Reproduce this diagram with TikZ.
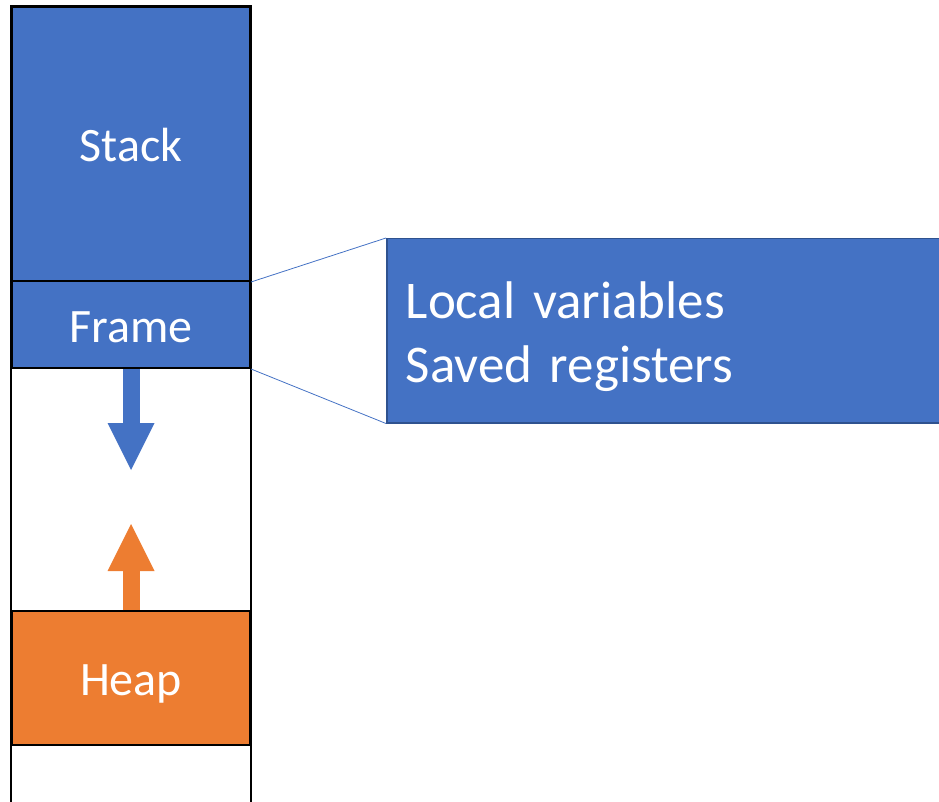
\documentclass[tikz,border=0pt]{standalone}
\usepackage{fontspec}
\setmainfont{Carlito}
\newfontfamily\calloutfont{Carlito}[WordSpace=0.5]
\usepackage{xcolor}
\usepackage{tikz}
\usetikzlibrary{arrows.meta,positioning,calc}
\definecolor{stackblue}{RGB}{68,114,196}
\definecolor{heaporange}{RGB}{237,125,49}
\definecolor{edgeblue}{RGB}{47,82,143}

\begin{document}
\begin{tikzpicture}[
  x=1pt, y=-1pt,
  segment/.style={draw=black, line width=2pt, minimum width=238pt, text=white, text height=35pt, text depth=0pt,
    font=\fontsize{48}{62}\selectfont},
  colline/.style={black, line width=2pt},
  growarrow/.style={line width=17pt, -{Triangle[length=47pt, width=47pt, line width=0pt]}},
  zoomline/.style={stackblue, line width=0.8pt}
]
\useasboundingbox (0,0) rectangle (939,802);
% column
\node[segment, fill=stackblue, minimum height=274pt] (stack) at (131,144) {Stack};
\node[segment, fill=stackblue, minimum height=87pt] (frame) at (131,324.5) {Frame};
\node[segment, fill=heaporange, minimum height=134pt] (heap) at (131,678) {Heap};
\coordinate (bot) at (0,812);
\draw[colline] (stack.north west |- bot) -- (stack.north west) -- (stack.north east) -- (stack.north east |- bot);
% growth arrows
\coordinate (downtip) at (131,470);
\coordinate (uptip) at (131,524);
\draw[growarrow, stackblue] (frame.south) -- (downtip);
\draw[growarrow, heaporange] (heap.north) -- (uptip);
% frame contents
\node[draw=edgeblue, line width=1.5pt, fill=stackblue, anchor=north west, minimum width=556pt, minimum height=184pt,
  text width=518pt, inner xsep=19pt, align=left, text=white, font=\calloutfont\fontsize{53}{64}\selectfont] (callout) at (386,238) {
  \rule{0pt}{48pt}Local variables\\
  Saved registers
};
\draw[zoomline] (stack.south east) -- (callout.north west);
\draw[zoomline] (frame.south east) -- (callout.south west);
\end{tikzpicture}
\end{document}
